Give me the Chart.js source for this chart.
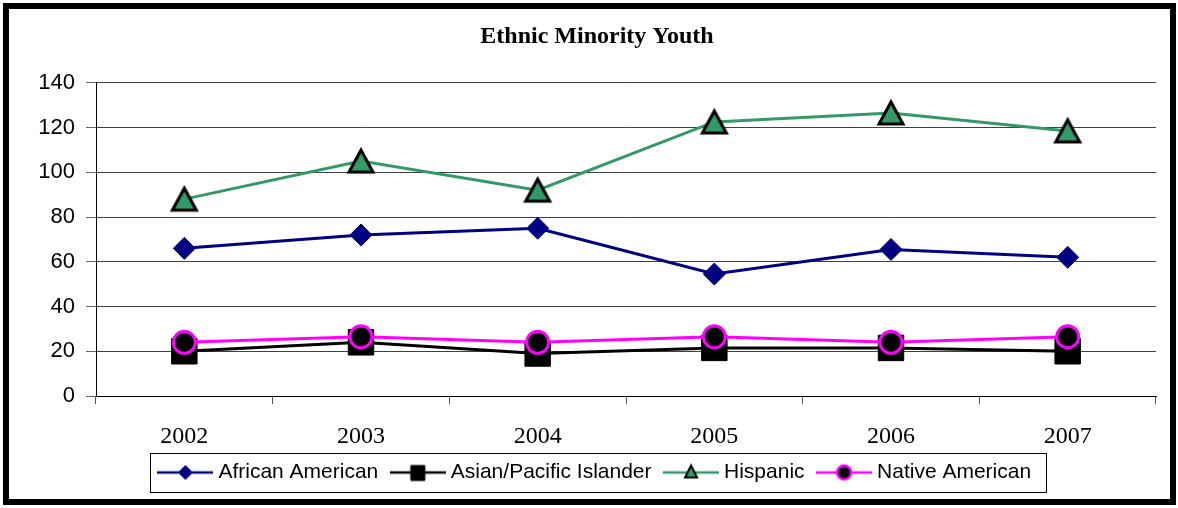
<!DOCTYPE html>
<html>
<head>
<meta charset="utf-8">
<script src="https://cdn.jsdelivr.net/npm/chart.js"></script>
<style>
  body { margin: 0; background: #fff; }
  #frame { position: absolute; left: 3px; top: 3px; width: 1173px; height: 502px; box-sizing: border-box; border: 6px solid #000; }
  canvas { display: block; }
</style>
</head>
<body>
<div id="frame"><canvas id="myChart" width="1161" height="490"></canvas></div>
<script>
const years = ['2002', '2003', '2004', '2005', '2006', '2007']
const africanAmerican = [66, 72, 75, 54.5, 65.5, 62]
const asianPacific = [20, 24, 19, 21.5, 21.5, 20]
const hispanic = [88, 105, 92, 122.5, 126.5, 118.5]
const nativeAmerican = [24, 26.5, 24, 26.5, 24, 26.5]
const yTicks = [0, 20, 40, 60, 80, 100, 120, 140]

const sans = "'Liberation Sans', Arial, sans-serif"
const serif = "'Liberation Serif', 'Times New Roman', serif"

// small line + marker pictures for the legend
function legendIcon(lineColor, style, fill, border, borderWidth) {
    const c = document.createElement('canvas')
    c.width = 56
    c.height = 24
    const ctx = c.getContext('2d')
    ctx.strokeStyle = lineColor
    ctx.lineWidth = 2.5
    ctx.beginPath()
    ctx.moveTo(0, 12)
    ctx.lineTo(56, 12)
    ctx.stroke()

    ctx.fillStyle = fill
    ctx.strokeStyle = border
    ctx.lineWidth = borderWidth
    ctx.beginPath()
    if (style === 'diamond') {
        ctx.moveTo(21, 12); ctx.lineTo(28, 5); ctx.lineTo(35, 12); ctx.lineTo(28, 19)
    } else if (style === 'square') {
        ctx.rect(21, 5, 14, 15)
    } else if (style === 'triangle') {
        ctx.moveTo(28, 5); ctx.lineTo(34, 17); ctx.lineTo(22, 17)
    } else {
        ctx.arc(28, 12, 7, 0, Math.PI * 2)
    }
    ctx.closePath()
    ctx.fill()
    ctx.stroke()
    return c
}

// excel style triangle, centred on its box and not on its centroid
function triangleMarker() {
    const c = document.createElement('canvas')
    c.width = 32
    c.height = 30
    const ctx = c.getContext('2d')
    ctx.fillStyle = '#339966'
    ctx.strokeStyle = '#000'
    ctx.lineWidth = 3
    ctx.beginPath()
    ctx.moveTo(16, 4)
    ctx.lineTo(28, 26)
    ctx.lineTo(4, 26)
    ctx.closePath()
    ctx.fill()
    ctx.stroke()
    return c
}

const icons = [
    legendIcon('#000080', 'diamond', '#000080', '#000080', 1),
    legendIcon('#000000', 'square', '#000000', '#000000', 1),
    legendIcon('#339966', 'triangle', '#339966', '#000000', 2),
    legendIcon('#FF00FF', 'circle', '#000000', '#FF00FF', 2.5)
]

// border round the legend items
const legendFrame = {
    id: 'legendFrame',
    afterDraw(chart) {
        const boxes = chart.legend.legendHitBoxes
        if (!boxes || !boxes.length) return
        const first = boxes[0]
        const last = boxes[boxes.length - 1]
        const cy = first.top + first.height / 2
        const left = Math.round(first.left - 13) + 0.5
        const right = Math.round(last.left + last.width + 15) + 0.5
        const top = Math.round(cy - 19.5) + 0.5
        const ctx = chart.ctx
        ctx.save()
        ctx.strokeStyle = '#000'
        ctx.lineWidth = 1
        ctx.strokeRect(left, top, right - left, 39)
        ctx.restore()
    }
}

const ctx = document.getElementById('myChart')
const myChart = new Chart(ctx, {
    type: 'line',
    data: {
        labels: years,
        datasets: [{
            label: 'African American',
            data: africanAmerican,
            borderColor: '#000080',
            backgroundColor: '#000080',
            borderWidth: 3,
            pointStyle: 'rectRot',
            pointRadius: 11,
            pointHoverRadius: 11,
            pointBorderWidth: 1,
            order: 3
        }, {
            label: 'Asian/Pacific Islander',
            data: asianPacific,
            borderColor: '#000000',
            backgroundColor: '#000000',
            borderWidth: 3,
            pointStyle: 'rect',
            pointRadius: 18,
            pointHoverRadius: 18,
            pointBorderWidth: 1,
            order: 2
        }, {
            label: 'Hispanic',
            data: hispanic,
            borderColor: '#339966',
            backgroundColor: '#339966',
            borderWidth: 3,
            pointStyle: triangleMarker(),
            pointRadius: 14,
            pointHoverRadius: 14,
            order: 1
        }, {
            label: 'Native American',
            data: nativeAmerican,
            borderColor: '#FF00FF',
            backgroundColor: '#000000',
            pointBackgroundColor: '#000000',
            pointBorderColor: '#FF00FF',
            borderWidth: 3,
            pointStyle: 'circle',
            pointRadius: 11,
            pointHoverRadius: 11,
            pointBorderWidth: 3,
            order: 0
        }]
    },
    options: {
        responsive: false,
        animation: false,
        devicePixelRatio: 1,
        layout: { autoPadding: false, padding: { left: 29, right: 14, top: 0, bottom: 6 } },
        plugins: {
            title: {
                display: true,
                text: 'Ethnic Minority Youth',
                color: '#000',
                font: { family: serif, size: 24, weight: 'bold' },
                padding: { top: 13, bottom: 32 }
            },
            legend: {
                position: 'bottom',
                labels: {
                    usePointStyle: true,
                    pointStyleWidth: 45,
                    boxHeight: 21,
                    padding: 17,
                    color: '#000',
                    font: { family: sans, size: 21 },
                    generateLabels(chart) {
                        return chart.data.datasets.map((ds, i) => ({
                            text: ds.label,
                            pointStyle: icons[i],
                            datasetIndex: i,
                            fillStyle: 'transparent',
                            strokeStyle: 'transparent',
                            lineWidth: 0,
                            fontColor: '#000',
                            hidden: false
                        }))
                    }
                }
            },
            tooltip: { enabled: false }
        },
        scales: {
            x: {
                offset: true,
                grid: { drawOnChartArea: false, offset: true, tickLength: 8, tickColor: '#555' },
                border: { color: '#000' },
                ticks: { color: '#000', font: { family: serif, size: 24 }, padding: 18, maxRotation: 0 },
                afterFit(scale) {
                    scale.height = 49
                    scale.paddingLeft = 0
                    scale.paddingRight = 0
                }
            },
            y: {
                min: yTicks[0],
                max: yTicks[yTicks.length - 1],
                grid: { color: '#404040', tickLength: 10, tickColor: '#666' },
                border: { color: '#000' },
                ticks: { stepSize: yTicks[1] - yTicks[0], color: '#000', font: { family: sans, size: 22 }, padding: 11 },
                afterFit(scale) { scale.width = 58 }
            }
        }
    },
    plugins: [legendFrame]
});
</script>
</body>
</html>
